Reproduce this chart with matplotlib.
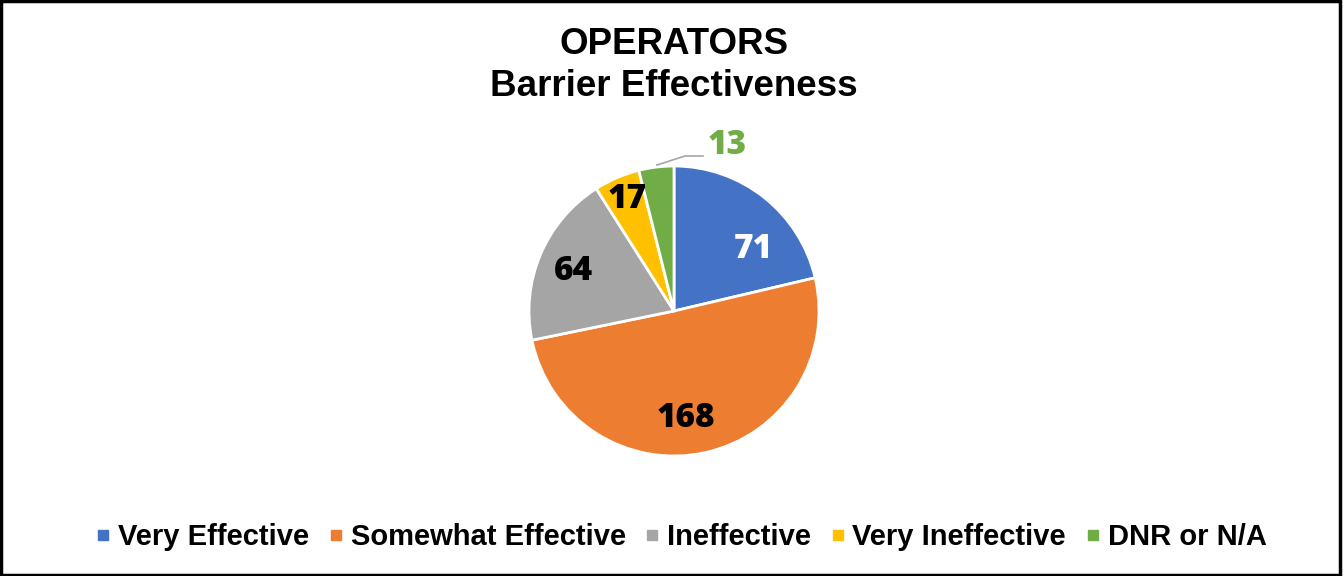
import matplotlib
matplotlib.use("Agg")
import matplotlib.pyplot as plt
from matplotlib.lines import Line2D
from matplotlib.patches import Rectangle

categories = ["Very Effective", "Somewhat Effective", "Ineffective", "Very Ineffective", "DNR or N/A"]
values = [71, 168, 64, 17, 13]
colors = ["#4472C4", "#ED7D31", "#A5A5A5", "#FFC000", "#70AD47"]
label_colors = ["white", "black", "black", "black", "#70AD47"]

W, H = 1343, 576
fig = plt.figure(figsize=(W / 100, H / 100), dpi=100)
ax = fig.add_axes([0, 0, 1, 1])
ax.set_xlim(0, W)
ax.set_ylim(0, H)
ax.set_aspect("equal")
ax.axis("off")

cx, cy, r = 674, H - 311, 145
wedges, _ = ax.pie(values, colors=colors, startangle=90, counterclock=False,
                   center=(cx, cy), radius=r, frame=True,
                   wedgeprops=dict(edgecolor="white", linewidth=2))
ax.set_xlim(0, W)
ax.set_ylim(0, H)
ax.axis("off")

num_font = dict(family=["Open Sans", "DejaVu Sans"], fontweight="heavy", fontsize=24)
label_pos = [(753, 249), (686, 418), (573, 271), (627, 199), (727, 145)]
for v, (x, y), c in zip(values, label_pos, label_colors):
    ax.text(x, H - y, str(v), color=c, ha="center", va="center", **num_font)

# leader line for small slice
ax.plot([657, 685, 703], [H - 165, H - 156, H - 156], color="#A5A5A5", lw=1.2)

fig.text(674 / W, 1 - 45 / H, "OPERATORS", ha="center", va="center",
         family="Liberation Sans", fontweight="bold", fontsize=26.5)
fig.text(674 / W, 1 - 87 / H, "Barrier Effectiveness", ha="center", va="center",
         family="Liberation Sans", fontweight="bold", fontsize=26.5)

handles = [Line2D([], [], marker="s", linestyle="none", markersize=7,
                  markerfacecolor=c, markeredgecolor=c) for c in colors]
fig.legend(handles, categories, loc="center", bbox_to_anchor=(682 / W, 1 - 537 / H),
           ncol=5, frameon=False, handlelength=0.4, handletextpad=0.3,
           columnspacing=0.72, prop=dict(family="Liberation Sans", weight="bold", size=21))

fig.patches.append(Rectangle((0.001, 0.002), 0.997, 0.996, transform=fig.transFigure,
                             fill=False, edgecolor="black", linewidth=2.5))

fig.savefig("out.png", dpi=100)
